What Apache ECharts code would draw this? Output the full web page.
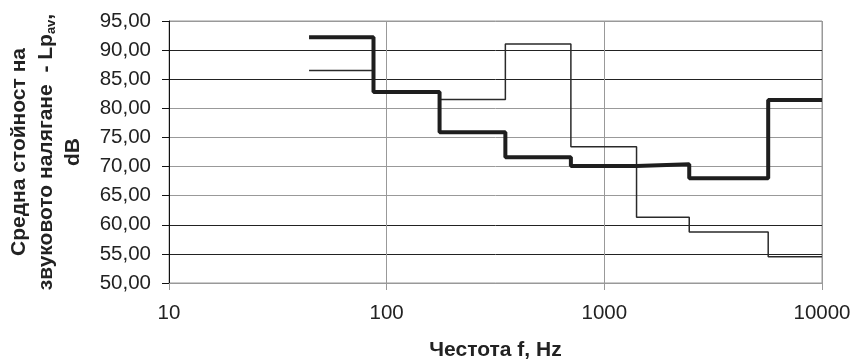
<!DOCTYPE html>
<html>
<head>
<meta charset="utf-8">
<script src="https://cdn.jsdelivr.net/npm/echarts@6/dist/echarts.min.js"></script>
<style>
  html, body { margin: 0; padding: 0; background: #fff; }
  #chart { width: 852px; height: 361px; }
</style>
</head>
<body>
<div id="chart"></div>
<script>
// band edges, Hz (last edge closes the final step)
const edges = [44, 87, 175, 351, 702, 1406, 2455, 5660, 10000];
// levels for each band, dB
const thickLevels = [92.2, 82.8, 75.9, 71.6, 70.1, 70.4, 68.0, 81.45];
const thinLevels = [86.5, 82.8, 81.5, 91.05, 73.4, 61.3, 58.75, 54.5];
const xTicks = [10, 100, 1000, 10000];

function stepPoints(levels) {
  const pts = levels.map((v, i) => [edges[i], v]);
  pts.push([edges[edges.length - 1], levels[levels.length - 1]]);
  return pts;
}

const font = "Liberation Sans, Arial, sans-serif";
const chart = echarts.init(document.getElementById("chart"));
chart.setOption({
  animation: false,
  grid: {
    left: 169, right: 30, top: 21, bottom: 78, outerBoundsMode: "none", containLabel: false,
    show: true, borderColor: "#999", borderWidth: 1,
  },
  xAxis: {
    type: "log", logBase: 10, min: xTicks[0], max: xTicks[xTicks.length - 1],
    name: "Честота f, Hz", nameLocation: "middle", nameGap: 57,
    nameTextStyle: { fontFamily: font, fontSize: 21, fontWeight: "bold", color: "#222" },
    axisLine: { lineStyle: { color: "#999" } },
    axisTick: { lineStyle: { color: "#999" }, length: 7 },
    axisLabel: { fontFamily: font, fontSize: 20.5, color: "#222", margin: 20, formatter: (v) => String(Math.round(v)) },
    splitLine: { show: true, lineStyle: { color: "#999", width: 1 } },
    minorTick: { show: false },
  },
  yAxis: {
    type: "value", min: 50, max: 95, interval: 5,
    name: "Средна стойност на\nзвуковото налягане  - Lp{sub|av},\ndB",
    nameLocation: "middle", nameRotate: 90, nameGap: 82,
    nameTextStyle: {
      fontFamily: font, fontSize: 21, fontWeight: "bold", color: "#222", lineHeight: 27, align: "center",
      rich: { sub: { fontFamily: font, fontSize: 13, fontWeight: "bold", color: "#222", lineHeight: 27, padding: [10, 0, 0, 0] } },
    },
    axisLine: { show: true, lineStyle: { color: "#111" } },
    axisTick: { show: true, length: 7, lineStyle: { color: "#111" } },
    axisLabel: { fontFamily: font, fontSize: 20.5, color: "#222", margin: 18, formatter: (v) => v.toFixed(2).replace(".", ",") },
    splitLine: { lineStyle: { color: ["#999", "#222", "#222", "#999", "#999", "#999", "#999", "#222", "#222", "#999"], width: 1 } },
  },
  series: [
    { type: "line", step: "end", data: stepPoints(thinLevels), showSymbol: false, lineStyle: { color: "#2a2a2a", width: 1.5 } },
    { type: "line", step: "end", data: stepPoints(thickLevels), showSymbol: false, lineStyle: { color: "#1e1e1e", width: 4 } },
  ],
});
</script>
</body>
</html>
